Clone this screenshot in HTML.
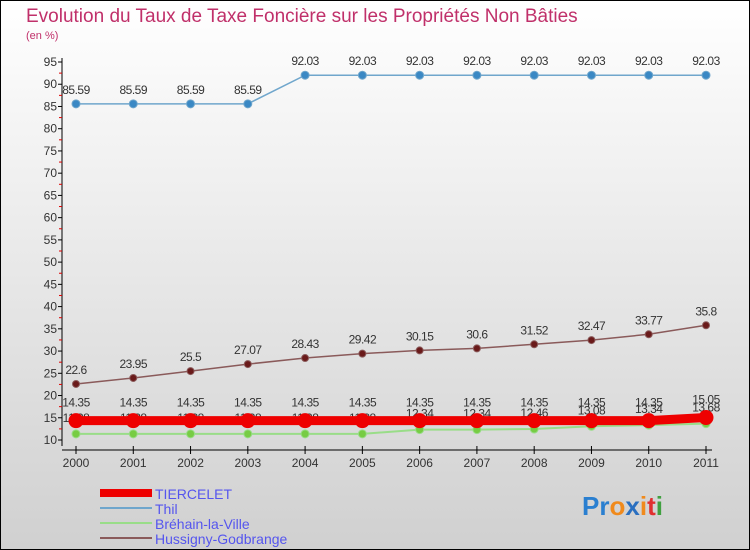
<!DOCTYPE html>
<html><head><meta charset="utf-8"><style>
body{margin:0}
svg{display:block;font-family:"Liberation Sans",sans-serif}
</style></head><body>
<svg id="chart" width="750" height="550">
<defs><linearGradient id="bg" x1="0" y1="0" x2="0" y2="1"><stop offset="0" stop-color="#ffffff"/><stop offset="1" stop-color="#d0d0d0"/></linearGradient></defs>
<rect x="0.5" y="0.5" width="749" height="549" fill="url(#bg)" stroke="#000"/>
<text x="26" y="22" font-size="19" fill="#c0306a">Evolution du Taux de Taxe Foncière sur les Propriétés Non Bâties</text>
<text x="26" y="39" font-size="11" fill="#c0306a">(en %)</text>
<g id="axes"></g>
<g id="series"></g>
<g font-size="14" fill="#5555ee">
<rect x="100" y="489" width="52" height="8" fill="#ee0000"/>
<text x="155" y="499">TIERCELET</text>
<line x1="100" x2="152" y1="508" y2="508" stroke="#6fa6cc" stroke-width="2"/>
<text x="155" y="514">Thil</text>
<line x1="100" x2="152" y1="523" y2="523" stroke="#99dd88" stroke-width="2"/>
<text x="155" y="529">Bréhain-la-Ville</text>
<line x1="100" x2="152" y1="538" y2="538" stroke="#8a5a5a" stroke-width="2"/>
<text x="155" y="544">Hussigny-Godbrange</text>
</g>
<text x="582" y="515" font-size="26" font-weight="bold"><tspan fill="#2a7fd0">Pr</tspan><tspan fill="#f08a1c">o</tspan><tspan fill="#2a6fc0">x</tspan><tspan fill="#f08a1c">i</tspan><tspan fill="#e03030">t</tspan><tspan fill="#40a040">i</tspan></text>
</svg>
<script>
const years=[2000,2001,2002,2003,2004,2005,2006,2007,2008,2009,2010,2011];
const yTicks=[10,15,20,25,30,35,40,45,50,55,60,65,70,75,80,85,90,95];
const tiercelet=[14.35,14.35,14.35,14.35,14.35,14.35,14.35,14.35,14.35,14.35,14.35,15.05];
const thil=[85.59,85.59,85.59,85.59,92.03,92.03,92.03,92.03,92.03,92.03,92.03,92.03];
const brehain=[11.38,11.38,11.38,11.38,11.38,11.38,12.34,12.34,12.46,13.08,13.34,13.68];
const hussigny=[22.6,23.95,25.5,27.07,28.43,29.42,30.15,30.6,31.52,32.47,33.77,35.8];
const NS="http://www.w3.org/2000/svg";
const X=i=>76+i*(630/11);
const Y=v=>440-(v-10)*(378/85);
function mk(tag,attrs,parent){const e=document.createElementNS(NS,tag);for(const k in attrs)e.setAttribute(k,attrs[k]);parent.appendChild(e);return e;}
const axes=document.getElementById('axes'),ser=document.getElementById('series');
const ya=mk('line',{x1:62,x2:62,y1:58,y2:446,stroke:'#000'},axes);


const xa=mk('line',{x1:62,x2:712,y1:450,y2:450,stroke:'#000'},axes);


yTicks.forEach(t=>{
  const y=Y(t);
  mk('line',{x1:58,x2:62,y1:y,y2:y,stroke:'#000'},axes);
  if(t<95) mk('line',{x1:59,x2:62,y1:Y(t+2.5),y2:Y(t+2.5),stroke:'#d00'},axes);
  const tx=mk('text',{x:57,y:y+4,'font-size':12,'text-anchor':'end',fill:'#333'},axes);
  tx.textContent=t;
  
  
});
years.forEach((yr,i)=>{
  mk('line',{x1:X(i),x2:X(i),y1:446,y2:454,stroke:'#000'},axes);
  const tx=mk('text',{x:X(i),y:467,'font-size':12,'text-anchor':'middle',fill:'#333'},axes);
  tx.textContent=yr;
  
  
});
function series(vals,color,w,r,fill,name,labelOff){
  const g=mk('g',{},ser);
  
  
  mk('polyline',{points:vals.map((v,i)=>X(i)+','+Y(v)).join(' '),fill:'none',stroke:color,'stroke-width':w},g);
  vals.forEach((v,i)=>{
    const c=mk('circle',{cx:X(i),cy:Y(v),r:r,fill:fill,stroke:color,'stroke-width':1},g);
    
    
    const t=mk('text',{x:X(i),y:Y(v)+labelOff,'font-size':12,'text-anchor':'middle',fill:'#333','letter-spacing':'-0.5'},g);
    t.textContent=String(v);
    
    
  });
}
series(brehain,'#99dd88',2,4,'#77cc44','brehain-series',-12);
series(tiercelet,'#ee0000',9,7,'#ee0000','tiercelet-series',-14);
series(thil,'#6fa6cc',1.5,4,'#3a88c4','thil-series',-10);
series(hussigny,'#8a5a5a',1.5,3.5,'#6a1a1a','hussigny-series',-10);
</script>
</body></html>
